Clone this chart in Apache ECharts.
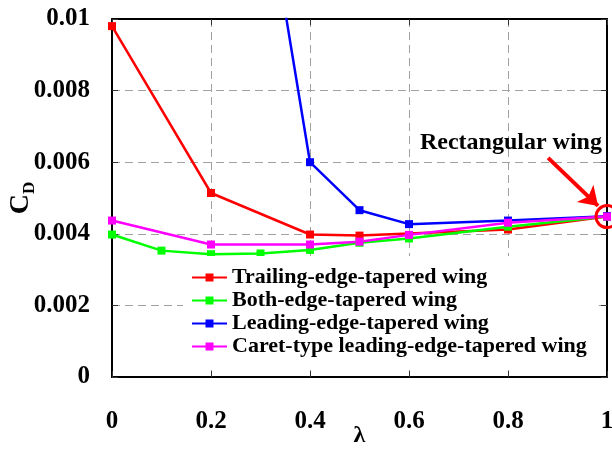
<!DOCTYPE html>
<html><head><meta charset="utf-8">
<script src="https://cdn.jsdelivr.net/npm/echarts@6/dist/echarts.min.js"></script>
<style>html,body{margin:0;padding:0;background:#fff}#c{width:612px;height:450px}</style>
</head><body><div id="c"></div>
<script>
var FONT = '"Liberation Serif","Times New Roman",serif';
var xTicks = [0, 0.2, 0.4, 0.6, 0.8, 1];
var yTicks = [0, 0.002, 0.004, 0.006, 0.008, 0.01];
var seriesNames = ['Trailing-edge-tapered wing', 'Both-edge-tapered wing', 'Leading-edge-tapered wing', 'Caret-type leading-edge-tapered wing'];
var seriesColors = ['#ff0000', '#00ff00', '#0000ff', '#ff00ff'];
var trailingX = [0, 0.2, 0.4, 0.5, 0.8, 1];
var trailingY = [0.0098, 0.00514, 0.00398, 0.00395, 0.00412, 0.00448];
var bothX = [0, 0.1, 0.2, 0.3, 0.4, 0.5, 0.6, 0.8, 1];
var bothY = [0.00398, 0.00353, 0.00343, 0.00345, 0.00355, 0.00375, 0.00387, 0.0042, 0.00448];
var leadingX = [0.3, 0.4, 0.5, 0.6, 0.8, 1];
var leadingY = [0.0144, 0.006, 0.00466, 0.00427, 0.00437, 0.00449];
var caretX = [0, 0.2, 0.4, 0.5, 0.6, 0.8, 1];
var caretY = [0.00437, 0.0037, 0.0037, 0.00378, 0.00397, 0.00431, 0.00448];
var annotText = 'Rectangular wing';
var rectPoint = [1, 0.00448];
var annotTextPos = [0.806, 0.00654];
var arrowFrom = [0.881, 0.00612];
var arrowTo = [0.982, 0.00478];

function pairs(xs, ys) { return xs.map(function (x, i) { return [x, ys[i]]; }); }
var allData = [pairs(trailingX, trailingY), pairs(bothX, bothY), pairs(leadingX, leadingY), pairs(caretX, caretY)];

var series = allData.map(function (d, i) {
  return {
    name: seriesNames[i], type: 'line', data: d,
    symbol: 'rect', symbolSize: 8,
    lineStyle: { color: seriesColors[i], width: 2.5 },
    itemStyle: { color: seriesColors[i] },
    clip: true
  };
});
series[3].markPoint = {
  silent: true,
  data: [
    { coord: rectPoint, symbol: 'circle', symbolSize: 22,
      itemStyle: { color: 'rgba(0,0,0,0)', borderColor: '#ff0000', borderWidth: 3 }, label: { show: false } },
    { coord: annotTextPos, symbol: 'circle', symbolSize: 0,
      label: { show: true, position: 'inside', formatter: annotText, color: '#000', fontFamily: FONT, fontWeight: 'bold', fontSize: 24 } }
  ]
};
series[3].markLine = {
  silent: true,
  symbol: ['none', 'arrow'], symbolSize: 18,
  lineStyle: { color: '#ff0000', width: 4, type: 'solid' },
  itemStyle: { color: '#ff0000' },
  label: { show: false },
  data: [[{ coord: arrowFrom }, { coord: arrowTo }]]
};

var chart = echarts.init(document.getElementById('c'), null, { renderer: 'canvas' });
chart.setOption({
  animation: false,
  backgroundColor: '#fff',
  grid: { left: 112, right: 5, top: 19, bottom: 73, containLabel: false, outerBoundsMode: 'none' },
  legend: {
    orient: 'vertical', left: 183, top: 256,
    padding: [10, 12, 10, 8], backgroundColor: '#fff',
    itemWidth: 35, itemHeight: 10, itemGap: 0,
    textStyle: { color: '#000', fontFamily: FONT, fontWeight: 'bold', fontSize: 22, lineHeight: 23 },
    data: seriesNames
  },
  xAxis: [{
    type: 'value', min: 0, max: 1, interval: 0.2,
    name: 'λ', nameLocation: 'middle', nameGap: 47, nameMoveOverlap: false,
    nameTextStyle: { color: '#000', fontFamily: FONT, fontWeight: 'bold', fontSize: 24 },
    axisLine: { onZero: false, lineStyle: { color: '#000', width: 2 } },
    axisTick: { inside: true, length: 6, lineStyle: { color: '#333' } },
    axisLabel: { margin: 32, color: '#000', fontFamily: FONT, fontWeight: 'bold', fontSize: 25,
      formatter: function (v) { return String(+v.toFixed(2)); } },
    splitLine: { show: true, lineStyle: { color: '#a0a0a0', width: 1, type: [8, 5] } }
  }, {
    type: 'value', position: 'top', min: 0, max: 1, interval: 0.2,
    axisLine: { onZero: false, lineStyle: { color: '#000', width: 2 } },
    axisTick: { inside: true, length: 6, lineStyle: { color: '#333' } },
    axisLabel: { show: false }, splitLine: { show: false }
  }],
  yAxis: [{
    type: 'value', min: 0, max: 0.01, interval: 0.002,
    name: '{c|C}{d|D}', nameLocation: 'middle', nameGap: 77, nameMoveOverlap: false,
    nameTextStyle: { color: '#000', fontFamily: FONT, fontWeight: 'bold',
      rich: {
        c: { fontSize: 28, fontFamily: FONT, fontWeight: 'bold', color: '#000', lineHeight: 30, verticalAlign: 'bottom' },
        d: { fontSize: 17, fontFamily: FONT, fontWeight: 'bold', color: '#000', lineHeight: 30, verticalAlign: 'bottom', padding: [0, 0, -3, 0] }
      } },
    axisLine: { onZero: false, lineStyle: { color: '#000', width: 2 } },
    axisTick: { inside: true, length: 6, lineStyle: { color: '#333' } },
    axisLabel: { margin: 22, color: '#000', fontFamily: FONT, fontWeight: 'bold', fontSize: 25,
      formatter: function (v) { return String(+v.toFixed(4)); } },
    splitLine: { show: true, lineStyle: { color: '#a0a0a0', width: 1, type: [8, 5] } }
  }, {
    type: 'value', position: 'right', min: 0, max: 0.01, interval: 0.002,
    axisLine: { onZero: false, lineStyle: { color: '#000', width: 2 } },
    axisTick: { inside: true, length: 6, lineStyle: { color: '#333' } },
    axisLabel: { show: false }, splitLine: { show: false }
  }],
  series: series
});
</script></body></html>
